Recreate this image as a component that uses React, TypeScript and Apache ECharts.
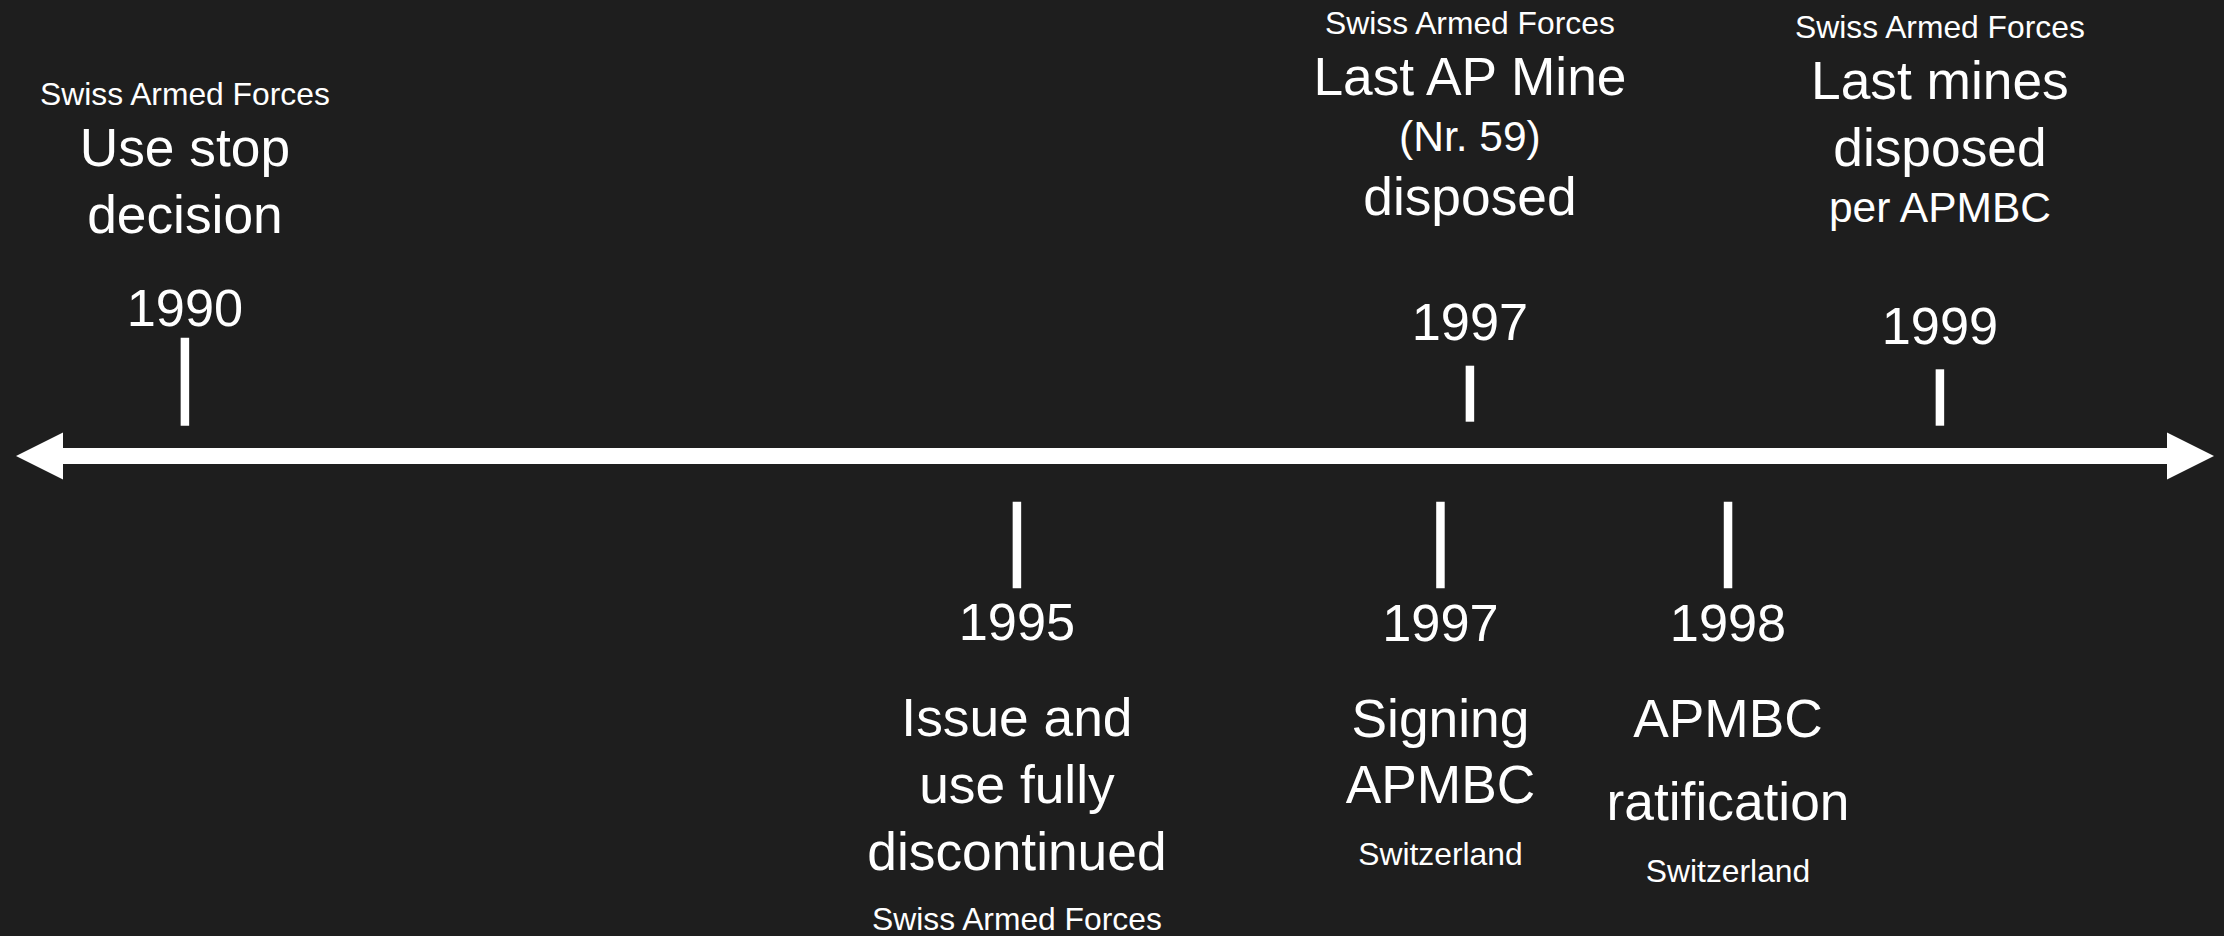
import React, { useEffect, useRef } from "react";
import * as echarts from "echarts";

// ---------- data ----------
const eventYears = ["1990", "1997", "1999", "1995", "1997", "1998"];
const eventSides = ["above", "above", "above", "below", "below", "below"];
// position of each event along the timeline (0 = left end, 100 = right end)
const eventPositions = [6.76, 66.5, 88.35, 45.44, 65.13, 78.5];
const eventTexts = [
  ["Swiss Armed Forces", "Use stop", "decision"],
  ["Swiss Armed Forces", "Last AP Mine", "(Nr. 59)", "disposed"],
  ["Swiss Armed Forces", "Last mines", "disposed", "per APMBC"],
  ["Issue and", "use fully", "discontinued", "Swiss Armed Forces"],
  ["Signing", "APMBC", "Switzerland"],
  ["APMBC", "ratification", "Switzerland"],
];
const eventTextRoles = [
  ["source", "title", "title"],
  ["source", "title", "note", "title"],
  ["source", "title", "title", "note"],
  ["title", "title", "title", "source"],
  ["title", "title", "source"],
  ["title", "title", "source"],
];

// ---------- layout / style ----------
const W = 2224;
const H = 936;
const BG = "#1e1e1e";
const FG = "#ffffff";
const FONT_FAMILY = "Liberation Sans, Arial, sans-serif";
const FONT_SIZE: Record<string, number> = { title: 53.3, note: 42.5, source: 31.8, year: 52.3 };
const CENTRAL = 0.3465; // distance of the 'central' baseline above the alphabetic one (em)
const BASELINE_FIX = 1.6;
const AXIS_Y = 456;
const TICK_W = 8.5;
// pixel offsets from the axis line (negative = above)
const TICK_SPAN = [
  [-118.3, -30.3],
  [-90.3, -34.3],
  [-86.7, -30.3],
  [45.7, 132.3],
  [45.7, 132.3],
  [45.7, 132.3],
];
const YEAR_BASELINE = [-131, -117.7, -113.7, 182.3, 183.3, 183.3];
const TEXT_BASELINES = [
  [-352.7, -291.7, -224.3],
  [-423.7, -362.7, -306, -242.7],
  [-420, -358.3, -291.7, -235],
  [278.3, 345.7, 412.3, 472.3],
  [279, 345.7, 407.3],
  [279, 362.3, 424],
];

function textEl(text: string, x: number, baseline: number, size: number) {
  return {
    type: "text",
    style: {
      text,
      x,
      y: baseline + BASELINE_FIX - CENTRAL * size,
      fill: FG,
      fontSize: size,
      fontFamily: FONT_FAMILY,
      align: "center",
      verticalAlign: "middle",
    },
  };
}

export default function App() {
  const ref = useRef<HTMLDivElement>(null);

  useEffect(() => {
    document.body.style.margin = "0";
    document.body.style.background = BG;
    if (!ref.current) return;
    const chart = echarts.init(ref.current, undefined, { renderer: "svg" });

    const option: any = {
      animation: false,
      backgroundColor: BG,
      textStyle: { fontFamily: FONT_FAMILY },
      grid: { left: 39.5, right: 33.5, top: 0, bottom: 0 },
      xAxis: {
        type: "value",
        min: 0,
        max: 100,
        axisLine: {
          show: true,
          onZero: true,
          symbol: ["triangle", "triangle"],
          symbolSize: [47, 47],
          lineStyle: { color: FG, width: 16 },
        },
        axisTick: { show: false },
        axisLabel: { show: false },
        splitLine: { show: false },
      },
      yAxis: {
        type: "value",
        min: AXIS_Y - H,
        max: AXIS_Y,
        show: false,
        splitLine: { show: false },
      },
      series: [
        {
          type: "custom",
          clip: false,
          silent: true,
          encode: { x: 0, y: 1 },
          data: eventPositions.map((p, i) => [p, 0, i]),
          renderItem: (params: any, api: any) => {
            const i = params.dataIndex;
            const pt = api.coord([api.value(0), 0]);
            const cx = pt[0];
            const cy = pt[1];
            const [t0, t1] = TICK_SPAN[i];
            const children: any[] = [
              {
                type: "rect",
                shape: { x: cx - TICK_W / 2, y: cy + t0, width: TICK_W, height: t1 - t0 },
                style: { fill: FG },
              },
              textEl(eventYears[i], cx, cy + YEAR_BASELINE[i], FONT_SIZE.year),
            ];
            eventTexts[i].forEach((line, j) => {
              children.push(
                textEl(line, cx, cy + TEXT_BASELINES[i][j], FONT_SIZE[eventTextRoles[i][j]])
              );
            });
            return { type: "group", children, info: eventSides[i] };
          },
        },
      ],
    };

    chart.setOption(option);
    return () => chart.dispose();
  }, []);

  return <div ref={ref} style={{ width: W, height: H }} />;
}
